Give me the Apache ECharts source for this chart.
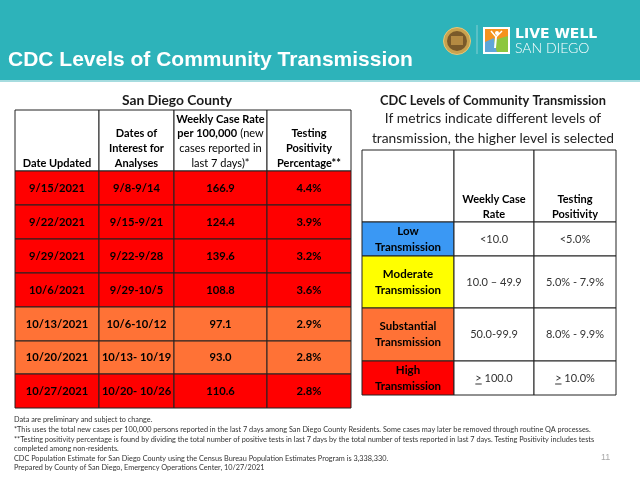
<!DOCTYPE html>
<html>
<head>
    <meta charset="utf-8">
    <script src="https://cdn.jsdelivr.net/npm/echarts/dist/echarts.min.js"></script>
    <style>
        body { margin: 0; background: #fff; }
    </style>
</head>
<body>
<div id="main" style="width: 640px; height: 480px"></div>
<script type="text/javascript">
    // San Diego County weekly data
    var dateUpdated = ['9/15/2021', '9/22/2021', '9/29/2021', '10/6/2021', '10/13/2021', '10/20/2021', '10/27/2021'];
    var datesOfInterest = ['9/8-9/14', '9/15-9/21', '9/22-9/28', '9/29-10/5', '10/6-10/12', '10/13- 10/19', '10/20- 10/26'];
    var caseRate = [166.9, 124.4, 139.6, 108.8, 97.1, 93.0, 110.6];
    var positivity = [4.4, 3.9, 3.2, 3.6, 2.9, 2.8, 2.8];

    // CDC levels
    var levels = ['Low', 'Moderate', 'Substantial', 'High'];
    var caseRateRanges = ['<10.0', '10.0 \u2013 49.9', '50.0-99.9', '> 100.0'];
    var positivityRanges = ['<5.0%', '5.0% - 7.9%', '8.0% - 9.9%', '> 10.0%'];
    var caseRateCuts = [10, 50, 100];
    var positivityCuts = [5, 8, 10];

    var leftHeaders = [
        '{b|Date Updated}',
        '{b|Dates of}\n{b|Interest for}\n{b|Analyses}',
        '{b|Weekly Case Rate}\n{b|per 100,000} {n|(new}\n{n|cases reported in}\n{n|last 7 days)*}',
        '{b|Testing}\n{b|Positivity}\n{b|Percentage**}'
    ];
    var rightHeaders = ['', '{b|Weekly Case}\n{b|Rate}', '{b|Testing}\n{b|Positivity}'];

    var footNotes = [
        'Data are preliminary and subject to change.',
        '*This uses the total new cases per 100,000 persons reported in the last 7 days among San Diego County Residents. Some cases may later be removed through routine QA processes.',
        '**Testing positivity percentage is found by dividing the total number of positive tests in last 7 days by the total number of tests reported in last 7 days. Testing Positivity includes tests',
        'completed among non-residents.',
        'CDC Population Estimate for San Diego County using the Census Bureau Population Estimates Program is 3,338,330.',
        'Prepared by County of San Diego, Emergency Operations Center, 10/27/2021'
    ];

    // layout of the two tables (axis units = px)
    var LEFT_COLS = [0, 84, 159, 252, 336];
    var LEFT_ROWS = [0, 61, 95, 129, 163, 197, 231, 264, 298];
    var RIGHT_COLS = [0, 92, 172, 254];
    var RIGHT_ROWS = [0, 72, 106, 158, 211, 245];

    var FONT = 'Lato, "Open Sans", sans-serif';
    var levelColor = {Low: '#3A98F4', Moderate: '#FFFF00', Substantial: '#FF7236', High: '#FF0000'};

    function levelOf(v, cuts) {
        var i = 0;
        while (i < cuts.length && v >= cuts[i]) i++;
        return i;
    }

    var measureCtx = document.createElement('canvas').getContext('2d');
    function textWidth(t, font) {
        measureCtx.font = font;
        return measureCtx.measureText(t).width;
    }

    // build cells of the left table
    var leftCells = [];
    leftHeaders.forEach(function (h, c) {
        leftCells.push({value: [c, 0], text: h, fill: '#fff', header: true});
    });
    dateUpdated.forEach(function (d, i) {
        var lv = levels[Math.max(levelOf(caseRate[i], caseRateCuts), levelOf(positivity[i], positivityCuts))];
        var row = [d, datesOfInterest[i], caseRate[i].toFixed(1), positivity[i].toFixed(1) + '%'];
        row.forEach(function (t, c) {
            leftCells.push({value: [c, i + 1], text: '{d|' + t + '}', fill: levelColor[lv]});
        });
    });

    // build cells of the right table
    var rightCells = [];
    rightHeaders.forEach(function (h, c) {
        rightCells.push({value: [c, 0], text: h, fill: '#fff', header: true});
    });
    levels.forEach(function (lv, i) {
        rightCells.push({value: [0, i + 1], text: '{l|' + lv + '}\n{l|Transmission}', fill: levelColor[lv]});
        rightCells.push({value: [1, i + 1], text: caseRateRanges[i], fill: '#fff', plain: true});
        rightCells.push({value: [2, i + 1], text: positivityRanges[i], fill: '#fff', plain: true});
    });

    var rich = {
        b: {fontFamily: FONT, fontWeight: 'bold', fontSize: 11, lineHeight: 14.7, color: '#1a1a1a'},
        n: {fontFamily: FONT, fontSize: 11, lineHeight: 14.7, color: '#333'},
        d: {fontFamily: FONT, fontWeight: 'bold', fontSize: 11.2, color: '#1a1a1a'},
        l: {fontFamily: FONT, fontWeight: 'bold', fontSize: 11.5, lineHeight: 16, color: '#1a1a1a'}
    };
    var plainFont = '11px ' + FONT;

    function tableRenderer(cols, rows, cells, headerLine) {
        return function (params, api) {
            var cell = cells[params.dataIndex];
            var c = api.value(0), r = api.value(1);
            var a = api.coord([cols[c], rows[r]]);
            var b = api.coord([cols[c + 1], rows[r + 1]]);
            var x = a[0], y = a[1], w = b[0] - a[0], h = b[1] - a[1];
            var children = [{
                type: 'rect',
                shape: {x: x, y: y, width: w, height: h},
                style: {fill: cell.fill, stroke: '#222', lineWidth: 1}
            }];
            if (cell.plain) {
                var t = cell.text;
                children.push({
                    type: 'text',
                    style: {text: t, x: x + w / 2, y: y + h / 2, align: 'center', verticalAlign: 'middle',
                        font: plainFont, fill: '#333'}
                });
                if (t.charAt(0) === '>') {
                    var tw = textWidth(t, plainFont);
                    var gw = textWidth('>', plainFont);
                    var sx = x + w / 2 - tw / 2;
                    children.push({
                        type: 'line',
                        shape: {x1: sx, y1: y + h / 2 + 6, x2: sx + gw, y2: y + h / 2 + 6},
                        style: {stroke: '#333', lineWidth: 1}
                    });
                }
            } else if (cell.text) {
                children.push({
                    type: 'text',
                    style: cell.header
                        ? {text: cell.text, rich: rich, x: x + w / 2, y: y + h - headerLine, align: 'center', verticalAlign: 'bottom'}
                        : {text: cell.text, rich: rich, x: x + w / 2, y: y + h / 2, align: 'center', verticalAlign: 'middle'}
                });
            }
            return {type: 'group', children: children};
        };
    }

    var graphics = [
        {type: 'rect', left: 0, top: 0, shape: {width: 640, height: 80}, style: {fill: '#2DB3BA'}},
        {type: 'rect', left: 0, top: 80, shape: {width: 640, height: 2}, style: {fill: '#A6DCDF'}},
        {type: 'text', left: 8, top: 50, style: {text: 'CDC Levels of Community Transmission',
            font: 'bold 21px "Liberation Sans", Arial, sans-serif', fill: '#fff'}},
        // county seal
        {type: 'circle', shape: {cx: 457, cy: 41, r: 13.5}, style: {fill: '#C9A24E', stroke: '#E6C878', lineWidth: 1}},
        {type: 'circle', shape: {cx: 457, cy: 41, r: 10}, style: {fill: '#7A5A2A'}},
        {type: 'rect', shape: {x: 451, y: 36, width: 12, height: 9}, style: {fill: '#B48A42'}},
        {type: 'line', shape: {x1: 477, y1: 25, x2: 477, y2: 54}, style: {stroke: '#86CFD3', lineWidth: 1}},
        // live well logo
        {type: 'rect', shape: {x: 483, y: 27, width: 27, height: 27}, style: {fill: '#fff'}},
        {type: 'rect', shape: {x: 485, y: 29, width: 23, height: 23}, style: {fill: '#F5931E'}},
        {type: 'polygon', shape: {points: [[485, 52], [485, 42], [494, 38], [497, 52]]}, style: {fill: '#5FA6D8'}},
        {type: 'polygon', shape: {points: [[497, 52], [494, 40], [508, 36], [508, 52]]}, style: {fill: '#8DC63F'}},
        {type: 'circle', shape: {cx: 497, cy: 33, r: 2}, style: {fill: '#fff'}},
        {type: 'polyline', shape: {points: [[491, 31], [496, 37], [502, 31]]}, style: {stroke: '#fff', lineWidth: 1.5}},
        {type: 'line', shape: {x1: 496, y1: 37, x2: 495, y2: 48}, style: {stroke: '#fff', lineWidth: 2}},
        {type: 'text', left: 515, top: 27, style: {text: 'LIVE WELL', font: 'bold 14px "DejaVu Sans", sans-serif', fill: '#fff'}},
        {type: 'text', left: 515, top: 41, style: {text: 'SAN DIEGO', font: '300 14px Lato, sans-serif', fill: '#fff'}},
        {type: 'text', left: 601, top: 453, style: {text: '11', font: '9px "Liberation Sans", sans-serif', fill: '#aaa'}}
    ];
    footNotes.forEach(function (t, i) {
        graphics.push({type: 'text', left: 14, top: 416.5 + i * 9.6,
            style: {text: t, font: '7.3px ' + FONT, fill: '#333'}});
    });

    var myChart = echarts.init(document.getElementById('main'), null, {renderer: 'canvas'});
    var option = {
        backgroundColor: '#fff',
        animation: false,
        title: [
            {text: 'San Diego County', left: 172, top: 89, textAlign: 'center',
                textStyle: {fontFamily: FONT, fontWeight: 'bold', fontSize: 13.8, color: '#1a1a1a'}},
            {text: 'CDC Levels of Community Transmission', left: 488, top: 89, textAlign: 'center',
                textStyle: {fontFamily: FONT, fontWeight: 'bold', fontSize: 12.8, color: '#1a1a1a'}},
            {text: 'If metrics indicate different levels of\ntransmission, the higher level is selected', left: 488, top: 104,
                textAlign: 'center',
                textStyle: {fontFamily: FONT, fontWeight: 'normal', fontSize: 13.8, lineHeight: 20, color: '#222'}}
        ],
        grid: [
            {left: 15, top: 110, width: 336, height: 298},
            {left: 362, top: 150, width: 254, height: 245}
        ],
        xAxis: [
            {gridIndex: 0, type: 'value', min: 0, max: 336, show: false},
            {gridIndex: 1, type: 'value', min: 0, max: 254, show: false}
        ],
        yAxis: [
            {gridIndex: 0, type: 'value', min: 0, max: 298, inverse: true, show: false},
            {gridIndex: 1, type: 'value', min: 0, max: 245, inverse: true, show: false}
        ],
        graphic: graphics,
        series: [
            {
                type: 'custom', xAxisIndex: 0, yAxisIndex: 0, clip: false,
                encode: {x: 0, y: 1},
                renderItem: tableRenderer(LEFT_COLS, LEFT_ROWS, leftCells, 0.5),
                data: leftCells.map(function (d) { return d.value; })
            },
            {
                type: 'custom', xAxisIndex: 1, yAxisIndex: 1, clip: false,
                encode: {x: 0, y: 1},
                renderItem: tableRenderer(RIGHT_COLS, RIGHT_ROWS, rightCells, 0),
                data: rightCells.map(function (d) { return d.value; })
            }
        ]
    };
    myChart.setOption(option);
</script>
</body>
</html>
